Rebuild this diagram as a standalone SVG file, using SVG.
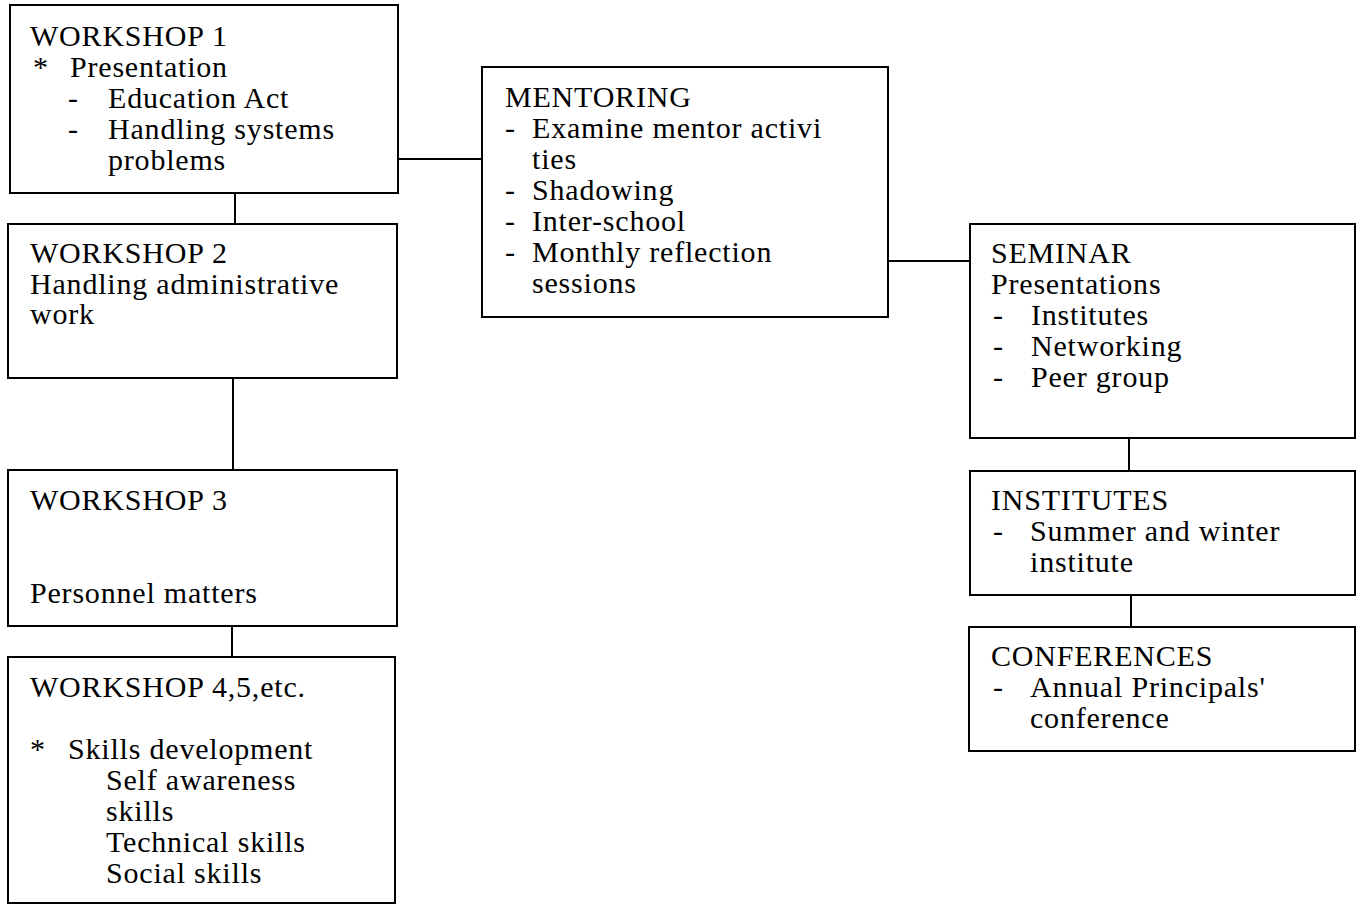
<svg xmlns="http://www.w3.org/2000/svg" width="1357" height="905" viewBox="0 0 1357 905">
<style>
.box{fill:#fff;stroke:#000;stroke-width:2}
.ln{stroke:#000;stroke-width:2;fill:none}
text{font-family:"Liberation Serif","Times New Roman",serif;font-size:30px;letter-spacing:0.8px;fill:#000}
</style>
<rect x="0" y="0" width="1357" height="905" fill="#fff"/>
<g id="connectors">
<line class="ln" x1="235" y1="193" x2="235" y2="224"/>
<line class="ln" x1="233" y1="378" x2="233" y2="470"/>
<line class="ln" x1="232" y1="626" x2="232" y2="657"/>
<line class="ln" x1="398" y1="159" x2="482" y2="159"/>
<line class="ln" x1="888" y1="261" x2="970" y2="261"/>
<line class="ln" x1="1129" y1="438" x2="1129" y2="471"/>
<line class="ln" x1="1131" y1="595" x2="1131" y2="627"/>
</g>
<g id="workshop1">
<rect class="box" x="10" y="5" width="388" height="188"/>
<text x="30" y="46">WORKSHOP 1</text>
<text x="33" y="77">*</text><text x="70" y="77">Presentation</text>
<text x="68" y="108">-</text><text x="108" y="108">Education Act</text>
<text x="68" y="139">-</text><text x="108" y="139">Handling systems</text>
<text x="108" y="170">problems</text>
</g>
<g id="workshop2">
<rect class="box" x="8" y="224" width="389" height="154"/>
<text x="30" y="263">WORKSHOP 2</text>
<text x="30" y="294">Handling administrative</text>
<text x="30" y="324">work</text>
</g>
<g id="workshop3">
<rect class="box" x="8" y="470" width="389" height="156"/>
<text x="30" y="510">WORKSHOP 3</text>
<text x="30" y="603">Personnel matters</text>
</g>
<g id="workshop4">
<rect class="box" x="8" y="657" width="387" height="246"/>
<text x="30" y="697">WORKSHOP 4,5,etc.</text>
<text x="30" y="759">*</text><text x="68" y="759">Skills development</text>
<text x="106" y="790">Self awareness</text>
<text x="106" y="821">skills</text>
<text x="106" y="852">Technical skills</text>
<text x="106" y="883">Social skills</text>
</g>
<g id="mentoring">
<rect class="box" x="482" y="67" width="406" height="250"/>
<text x="505" y="107">MENTORING</text>
<text x="505" y="138">-</text><text x="532" y="138">Examine mentor activi</text>
<text x="532" y="169">ties</text>
<text x="505" y="200">-</text><text x="532" y="200">Shadowing</text>
<text x="505" y="231">-</text><text x="532" y="231">Inter-school</text>
<text x="505" y="262">-</text><text x="532" y="262">Monthly reflection</text>
<text x="532" y="293">sessions</text>
</g>
<g id="seminar">
<rect class="box" x="970" y="224" width="385" height="214"/>
<text x="991" y="263">SEMINAR</text>
<text x="991" y="294">Presentations</text>
<text x="993" y="325">-</text><text x="1031" y="325">Institutes</text>
<text x="993" y="356">-</text><text x="1031" y="356">Networking</text>
<text x="993" y="387">-</text><text x="1031" y="387">Peer group</text>
</g>
<g id="institutes">
<rect class="box" x="970" y="471" width="385" height="124"/>
<text x="991" y="510">INSTITUTES</text>
<text x="993" y="541">-</text><text x="1030" y="541">Summer and winter</text>
<text x="1030" y="572">institute</text>
</g>
<g id="conferences">
<rect class="box" x="969" y="627" width="386" height="124"/>
<text x="991" y="666">CONFERENCES</text>
<text x="993" y="697">-</text><text x="1030" y="697">Annual Principals'</text>
<text x="1030" y="728">conference</text>
</g>
</svg>
